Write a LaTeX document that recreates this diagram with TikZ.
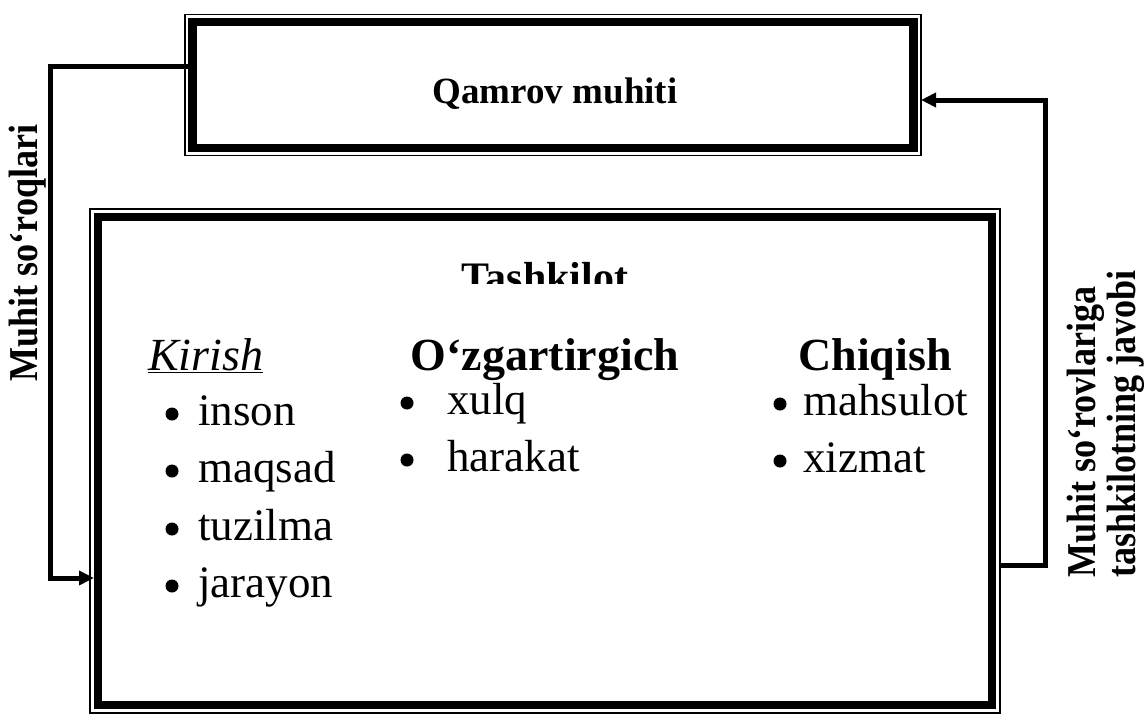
\documentclass[tikz,border=0pt]{standalone}
\usepackage{fontspec}
\usepackage{graphicx}
\setmainfont{Liberation Serif}
\usetikzlibrary{arrows.meta}
\begin{document}
\begin{tikzpicture}[x=1pt,y=-1pt,
  thickframe/.style={draw, line width=8.5pt, inner sep=0pt, outer sep=0pt},
  thinframe/.style={draw, line width=1.6pt},
  link/.style={draw, line width=5pt, line join=miter},
  tip/.style={-{Triangle[length=15pt,width=14pt]}},
  heading/.style={font=\fontsize{46}{50}\selectfont\bfseries, anchor=base, inner sep=0pt},
  item/.style={font=\fontsize{45}{50}\selectfont, anchor=base west, inner sep=0pt},
  dot/.style={circle, fill, inner sep=0pt, minimum size=13pt},
  side/.style={font=\fontsize{41}{39}\selectfont\bfseries, rotate=90, inner sep=0pt}]
\useasboundingbox (0,0) rectangle (1145,713);

% environment box (thick inner frame, thin outer frame)
\node[thickframe, minimum width=721pt, minimum height=126pt] (env) at (553,85) {};
\draw[thinframe] ([xshift=-7.5pt,yshift=7.5pt]env.north west) rectangle ([xshift=7.5pt,yshift=-7.5pt]env.south east);
\node[font=\fontsize{37}{40}\selectfont\bfseries, anchor=base, inner sep=0pt] (envtext) at (555,103) {Qamrov muhiti};

% organisation box
\node[thickframe, minimum width=894pt, minimum height=488pt] (org) at (545,461) {};
\draw[thinframe] ([xshift=-8pt,yshift=8pt]org.north west) rectangle ([xshift=8pt,yshift=-8pt]org.south east);

% title of the organisation box, cut off at its lower edge
\begin{scope}
  \clip (120,240) rectangle (980,283);
  \node[font=\fontsize{42}{46}\selectfont\bfseries, anchor=base, inner sep=0pt] (orgtitle) at (545,291) {Tashkilot};
\end{scope}

% column headings
\node[font=\fontsize{46}{50}\selectfont\itshape, anchor=base west, inner sep=0pt] (kirish) at (148,370) {\underline{Kirish}};
\node[heading] (ozg) at (545,370) {O‘zgartirgich};
\node[heading] (chiq) at (875,370) {Chiqish};

% input column
\node[item] (k1) at (198,425) {inson};
\node[item] (k2) at (198,482) {maqsad};
\node[item] (k3) at (198,540) {tuzilma};
\node[item] (k4) at (198,597) {jarayon};
\node[dot] (k1d) at (172,414) {};
\node[dot] (k2d) at (172,471) {};
\node[dot] (k3d) at (172,529) {};
\node[dot] (k4d) at (172,586) {};

% transformer column
\node[item] (o1) at (447,414) {xulq};
\node[item] (o2) at (447,471) {harakat};
\node[dot] (o1d) at (407,403) {};
\node[dot] (o2d) at (407,460) {};

% output column
\node[item] (c1) at (803,415) {mahsulot};
\node[item] (c2) at (803,472) {xizmat};
\node[dot] (c1d) at (780,404) {};
\node[dot] (c2d) at (780,461) {};

% feedback connectors
\coordinate (lt) at (50,66);
\coordinate (lb) at (50,578);
\draw[link, tip] (env.west |- lt) -- (lt) -- (lb) -- ([xshift=-4pt]org.west |- lb);

\coordinate (rb) at (1045,565);
\coordinate (rt) at (1045,100);
\draw[link, tip] ([xshift=8pt]org.east |- rb) -- (rb) -- (rt) -- ([xshift=7.5pt]env.east |- rt);

% side labels
\node[side] (lefttext) at (28,253) {\scalebox{0.88}[1]{Muhit so‘roqlari}};
\node[side, anchor=north west] (righttext) at (1067,578)
  {\scalebox{0.88}[1]{\begin{tabular}{@{}l@{}}Muhit so‘rovlariga\\tashkilotning javobi\end{tabular}}};
\end{tikzpicture}
\end{document}
